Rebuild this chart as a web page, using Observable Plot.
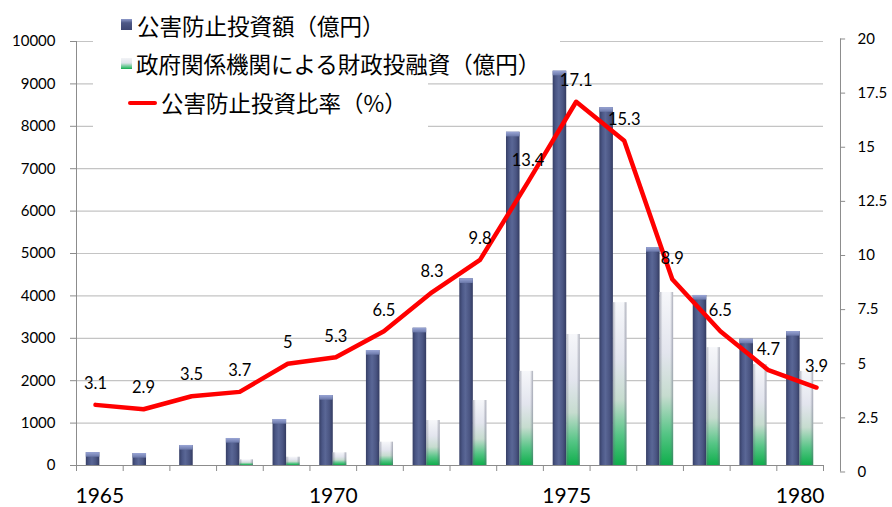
<!DOCTYPE html>
<html>
<head>
<meta charset="utf-8">
<script src="https://cdn.jsdelivr.net/npm/d3@7"></script>
<script src="https://cdn.jsdelivr.net/npm/@observablehq/plot@0.6"></script>
<style>
  html, body { margin: 0; padding: 0; background: #fff; }
  #wrap { position: relative; width: 892px; height: 507px; overflow: hidden; background: #fff; }
  #wrap svg { position: absolute; left: 0; top: 0; }
  .mask { position: absolute; background: #fff; }
  .lg-text { position: absolute; font-family: "Noto Sans CJK JP", sans-serif; font-size: 22.5px; line-height: 32px; color: #000; white-space: nowrap; }
  .lg-icon { position: absolute; }
</style>
</head>
<body>
<div id="wrap"></div>
<script>
// ---- data ----
const years = [1965, 1966, 1967, 1968, 1969, 1970, 1971, 1972, 1973, 1974, 1975, 1976, 1977, 1978, 1979, 1980];
const investment = [305, 283, 472, 637, 1085, 1650, 2712, 3238, 4403, 7860, 9300, 8440, 5140, 4010, 2980, 3160];
const filp = [0, 0, 0, 134, 196, 300, 550, 1061, 1533, 2220, 3090, 3840, 4080, 2780, 2380, 2220];
const ratio = [3.1, 2.9, 3.5, 3.7, 5, 5.3, 6.5, 8.3, 9.8, 13.4, 17.1, 15.3, 8.9, 6.5, 4.7, 3.9];
const leftTicks = [0, 1000, 2000, 3000, 4000, 5000, 6000, 7000, 8000, 9000, 10000];
const rightTicks = [0, 2.5, 5, 7.5, 10, 12.5, 15, 17.5, 20];
const xLabels = [1965, 1970, 1975, 1980];
const legendLabels = ["公害防止投資額（億円）", "政府関係機関による財政投融資（億円）", "公害防止投資比率（%）"];

// ---- table ----
const data = years.map((year, i) => ({year, investment: investment[i], filp: filp[i], ratio: ratio[i]}));
const boundaries = d3.range(years[0] - 0.5, years[years.length - 1] + 1, 1);

// layout helpers
const BAR = 0.29;                                   // bar width in category units
const lineX = d3.scaleLinear([1965, 1980], [1964.907, 1980.35]); // secondary (line) category axis
const rToLeft = d3.scaleLinear([0, 20], [-153, 10059]);           // secondary value axis
const rightX = 1980.864;
const AXIS = "#8c8c8c", GRID = "#c4c4c4";

const chart = Plot.plot({
  width: 892, height: 507,
  marginLeft: 76, marginRight: 69, marginTop: 41, marginBottom: 42,
  x: {type: "linear", domain: [1964.5, 1980.5], axis: null},
  y: {domain: [0, 10000], axis: null},
  style: {fontFamily: "Lato, 'Liberation Sans', sans-serif", background: "white", overflow: "visible", color: "black"},
  marks: [
    Plot.ruleY(leftTicks, {stroke: GRID, strokeWidth: 1.2}),
    // blue bars
    Plot.rect(data, {x1: d => d.year - BAR, x2: d => d.year, y1: 0, y2: "investment", fill: "url(#gBlue)"}),
    Plot.rect(data, {x1: d => d.year - BAR, x2: d => d.year, y1: d => d.investment - 110, y2: "investment", fill: "url(#gCap)"}),
    // green bars
    Plot.rect(data.filter(d => d.filp > 0), {x1: d => d.year, x2: d => d.year + BAR, y1: 0, y2: "filp", fill: "url(#gGreen)"}),
    Plot.rect(data.filter(d => d.filp > 0), {x1: d => d.year, x2: d => d.year + BAR, y1: 0, y2: "filp", fill: "url(#gShade)"}),
    // axes lines
    Plot.ruleX([1964.5], {y1: 0, y2: 10000, stroke: AXIS}),
    Plot.ruleY([0], {stroke: AXIS}),
    Plot.axisY({ticks: leftTicks, tickSize: 6, tickPadding: 15, fontSize: 15, label: null, tickFormat: d => String(d), stroke: AXIS, fill: "black"}),
    Plot.axisX({ticks: boundaries, tickSize: 6, tickFormat: () => "", label: null, stroke: AXIS}),
    Plot.axisX({ticks: xLabels, tickSize: 0, tickPadding: 23, fontSize: 21, tickFormat: d => String(d), label: null, fill: "black"}),
    // right axis
    Plot.ruleX([rightX], {y1: rToLeft(0), y2: rToLeft(20), stroke: AXIS}),
    Plot.ruleY(rightTicks, {y: d => rToLeft(d), x1: rightX, x2: rightX + 0.11, stroke: AXIS}),
    Plot.text(rightTicks, {x: rightX, y: d => rToLeft(d), text: d => String(d), dx: 17, textAnchor: "start", fontSize: 15, fill: "black"}),
    // ratio line
    Plot.line(data, {x: d => lineX(d.year), y: d => rToLeft(d.ratio), stroke: "#ff0000", strokeWidth: 4.5}),
    Plot.text(data, {x: d => lineX(d.year), y: d => rToLeft(d.ratio), text: d => String(d.ratio), dy: -21, fontSize: 16.5, fill: "black"})
  ]
});

// gradients
const defs = d3.select(chart).insert("defs", ":first-child");
function grad(id, vertical, stops) {
  const g = defs.append("linearGradient").attr("id", id)
    .attr("x1", 0).attr("y1", 0).attr("x2", vertical ? 0 : 1).attr("y2", vertical ? 1 : 0);
  stops.forEach(([o, c, op]) => g.append("stop").attr("offset", o).attr("stop-color", c).attr("stop-opacity", op == null ? 1 : op));
}
grad("gBlue", false, [["0%", "#363f66"], ["22%", "#4b5786"], ["45%", "#5a6796"], ["75%", "#4a5582"], ["100%", "#333b61"]]);
grad("gCap", true, [["0%", "#9aa6d6"], ["100%", "#6a77a8"]]);
grad("gGreen", true, [["0%", "#f6f7fa"], ["35%", "#e3e5ee"], ["60%", "#c6dccf"], ["82%", "#55c585"], ["100%", "#0fae4b"]]);
grad("gShade", false, [["0%", "#606478", 0.45], ["22%", "#606478", 0], ["78%", "#606478", 0], ["100%", "#606478", 0.5]]);

const wrap = document.getElementById("wrap");
wrap.appendChild(chart);

// legend (overlaid on the plot area, with white background)
function div(cls, style, html) {
  const e = document.createElement("div");
  e.className = cls;
  Object.assign(e.style, style);
  if (html != null) e.textContent = html;
  wrap.appendChild(e);
  return e;
}
div("mask", {left: "93px", top: "0px", width: "467px", height: "50px"});
div("mask", {left: "93px", top: "50px", width: "335px", height: "85px"});
div("lg-icon", {left: "121px", top: "19px", width: "11px", height: "11px", background: "linear-gradient(to bottom, #8e9acb 0%, #4d5886 35%, #3d4672 100%)"});
div("lg-icon", {left: "121px", top: "58px", width: "11px", height: "11px", background: "linear-gradient(to bottom, #f2f3f6 0%, #dfe3ea 45%, #4cc27e 85%, #12a84b 100%)"});
div("lg-icon", {left: "128px", top: "101px", width: "29px", height: "4px", background: "#ff0000", borderRadius: "2px"});
div("lg-text", {left: "137px", top: "9px"}, legendLabels[0]);
div("lg-text", {left: "136px", top: "47px"}, legendLabels[1]);
div("lg-text", {left: "161px", top: "86px"}, legendLabels[2]);
</script>
</body>
</html>
